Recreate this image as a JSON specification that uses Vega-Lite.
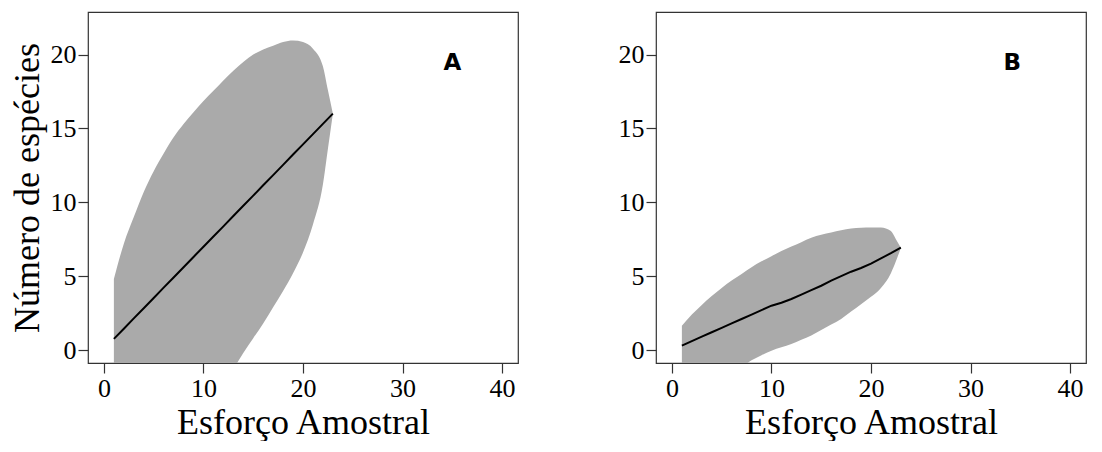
{
  "$schema": "https://vega.github.io/schema/vega-lite/v6.json",
  "background": "white",
  "padding": {"left": 8, "top": 11, "right": 0, "bottom": 0},
  "bounds": "flush",
  "spacing": 138,
  "config": {
    "view": {"stroke": "#333333", "strokeWidth": 1.2},
    "axis": {
      "domain": false, "grid": false,
      "tickColor": "#333333", "tickSize": 10, "tickWidth": 1.2,
      "titleFont": "Liberation Serif", "titleFontSize": 36, "titleFontWeight": "normal", "titleColor": "#000000"
    }
  },
  "datasets": {
    "band": [
      {"panel": "A", "x": 1, "y": 4.8, "ylo": -10.5},
      {"panel": "A", "x": 2, "y": 7.2, "ylo": -9.5},
      {"panel": "A", "x": 3, "y": 9.0, "ylo": -8.6},
      {"panel": "A", "x": 4, "y": 10.7, "ylo": -7.7},
      {"panel": "A", "x": 5, "y": 12.1, "ylo": -6.8},
      {"panel": "A", "x": 6, "y": 13.3, "ylo": -6.0},
      {"panel": "A", "x": 7, "y": 14.4, "ylo": -5.2},
      {"panel": "A", "x": 8, "y": 15.3, "ylo": -4.5},
      {"panel": "A", "x": 9, "y": 16.1, "ylo": -3.8},
      {"panel": "A", "x": 10, "y": 16.85, "ylo": -3.1},
      {"panel": "A", "x": 11, "y": 17.55, "ylo": -2.5},
      {"panel": "A", "x": 12, "y": 18.25, "ylo": -1.9},
      {"panel": "A", "x": 13, "y": 18.9, "ylo": -1.25},
      {"panel": "A", "x": 14, "y": 19.5, "ylo": -0.2},
      {"panel": "A", "x": 15, "y": 20.0, "ylo": 0.8},
      {"panel": "A", "x": 16, "y": 20.35, "ylo": 1.8},
      {"panel": "A", "x": 17, "y": 20.6, "ylo": 2.9},
      {"panel": "A", "x": 18, "y": 20.85, "ylo": 4.0},
      {"panel": "A", "x": 19, "y": 20.95, "ylo": 5.2},
      {"panel": "A", "x": 20, "y": 20.85, "ylo": 6.6},
      {"panel": "A", "x": 21, "y": 20.4, "ylo": 8.5},
      {"panel": "A", "x": 22, "y": 19.2, "ylo": 11.2},
      {"panel": "A", "x": 22.5, "y": 17.6, "ylo": 13.6},
      {"panel": "A", "x": 23, "y": 16.0, "ylo": 16.0},
      {"panel": "B", "x": 1, "y": 1.65, "ylo": -3.2},
      {"panel": "B", "x": 2, "y": 2.4, "ylo": -2.8},
      {"panel": "B", "x": 3, "y": 3.05, "ylo": -2.4},
      {"panel": "B", "x": 4, "y": 3.65, "ylo": -2.0},
      {"panel": "B", "x": 5, "y": 4.2, "ylo": -1.7},
      {"panel": "B", "x": 6, "y": 4.7, "ylo": -1.4},
      {"panel": "B", "x": 7, "y": 5.15, "ylo": -1.15},
      {"panel": "B", "x": 8, "y": 5.6, "ylo": -0.7},
      {"panel": "B", "x": 9, "y": 6.0, "ylo": -0.35},
      {"panel": "B", "x": 10, "y": 6.35, "ylo": -0.05},
      {"panel": "B", "x": 11, "y": 6.7, "ylo": 0.18},
      {"panel": "B", "x": 12, "y": 7.0, "ylo": 0.4},
      {"panel": "B", "x": 13, "y": 7.3, "ylo": 0.7},
      {"panel": "B", "x": 14, "y": 7.6, "ylo": 0.98},
      {"panel": "B", "x": 15, "y": 7.8, "ylo": 1.35},
      {"panel": "B", "x": 16, "y": 7.95, "ylo": 1.72},
      {"panel": "B", "x": 17, "y": 8.1, "ylo": 2.1},
      {"panel": "B", "x": 18, "y": 8.22, "ylo": 2.6},
      {"panel": "B", "x": 19, "y": 8.28, "ylo": 3.1},
      {"panel": "B", "x": 20, "y": 8.3, "ylo": 3.6},
      {"panel": "B", "x": 21, "y": 8.3, "ylo": 4.2},
      {"panel": "B", "x": 22, "y": 8.05, "ylo": 5.2},
      {"panel": "B", "x": 22.5, "y": 7.5, "ylo": 6.0},
      {"panel": "B", "x": 23, "y": 6.93, "ylo": 6.93}
    ],
    "fit": [
      {"panel": "A", "x": 1, "y": 0.75}, {"panel": "A", "x": 2, "y": 1.44}, {"panel": "A", "x": 3, "y": 2.14},
      {"panel": "A", "x": 4, "y": 2.83}, {"panel": "A", "x": 5, "y": 3.52}, {"panel": "A", "x": 6, "y": 4.22},
      {"panel": "A", "x": 7, "y": 4.91}, {"panel": "A", "x": 8, "y": 5.6}, {"panel": "A", "x": 9, "y": 6.3},
      {"panel": "A", "x": 10, "y": 6.99}, {"panel": "A", "x": 11, "y": 7.68}, {"panel": "A", "x": 12, "y": 8.37},
      {"panel": "A", "x": 13, "y": 9.07}, {"panel": "A", "x": 14, "y": 9.76}, {"panel": "A", "x": 15, "y": 10.45},
      {"panel": "A", "x": 16, "y": 11.15}, {"panel": "A", "x": 17, "y": 11.84}, {"panel": "A", "x": 18, "y": 12.53},
      {"panel": "A", "x": 19, "y": 13.23}, {"panel": "A", "x": 20, "y": 13.92}, {"panel": "A", "x": 21, "y": 14.61},
      {"panel": "A", "x": 22, "y": 15.31}, {"panel": "A", "x": 23, "y": 16.0},
      {"panel": "B", "x": 1, "y": 0.3}, {"panel": "B", "x": 2, "y": 0.6}, {"panel": "B", "x": 3, "y": 0.9},
      {"panel": "B", "x": 4, "y": 1.2}, {"panel": "B", "x": 5, "y": 1.5}, {"panel": "B", "x": 6, "y": 1.8},
      {"panel": "B", "x": 7, "y": 2.1}, {"panel": "B", "x": 8, "y": 2.4}, {"panel": "B", "x": 9, "y": 2.7},
      {"panel": "B", "x": 10, "y": 3.0}, {"panel": "B", "x": 11, "y": 3.2}, {"panel": "B", "x": 12, "y": 3.45},
      {"panel": "B", "x": 13, "y": 3.75}, {"panel": "B", "x": 14, "y": 4.05}, {"panel": "B", "x": 15, "y": 4.35},
      {"panel": "B", "x": 16, "y": 4.7}, {"panel": "B", "x": 17, "y": 5.0}, {"panel": "B", "x": 18, "y": 5.3},
      {"panel": "B", "x": 19, "y": 5.55}, {"panel": "B", "x": 20, "y": 5.85}, {"panel": "B", "x": 21, "y": 6.2},
      {"panel": "B", "x": 22, "y": 6.55}, {"panel": "B", "x": 23, "y": 6.93}
    ],
    "panelLabels": [
      {"panel": "A", "x": 35, "y": 19.45, "label": "A"},
      {"panel": "B", "x": 34.2, "y": 19.45, "label": "B"}
    ]
  },
  "hconcat": [
    {
      "width": 430, "height": 351,
      "layer": [
        {
          "data": {"name": "band"},
          "transform": [{"filter": "datum.panel === 'A'"}],
          "mark": {"type": "area", "color": "#AAAAAA", "clip": true, "interpolate": "monotone"},
          "encoding": {
            "x": {"field": "x", "type": "quantitative", "scale": {"domain": [-1.6, 41.6], "nice": false, "zero": false},
                  "axis": {"values": [0, 10, 20, 30, 40], "title": "Esforço Amostral", "labelFont": "Liberation Serif", "labelFontSize": 26, "labelColor": "black"}},
            "y": {"field": "y", "type": "quantitative", "scale": {"domain": [-0.88, 22.88], "nice": false, "zero": false},
                  "axis": {"values": [0, 5, 10, 15, 20], "title": "Número de espécies", "labelFont": "Liberation Serif", "labelFontSize": 26, "labelColor": "black"}},
            "y2": {"field": "ylo"}
          }
        },
        {
          "data": {"name": "fit"},
          "transform": [{"filter": "datum.panel === 'A'"}],
          "mark": {"type": "line", "color": "#000000", "strokeWidth": 2, "clip": true},
          "encoding": {
            "x": {"field": "x", "type": "quantitative"},
            "y": {"field": "y", "type": "quantitative"}
          }
        },
        {
          "data": {"name": "panelLabels"},
          "transform": [{"filter": "datum.panel === 'A'"}],
          "mark": {"type": "text", "font": "DejaVu Sans", "fontWeight": "bold", "fontSize": 23, "align": "center", "baseline": "middle", "color": "#000000"},
          "encoding": {
            "x": {"field": "x", "type": "quantitative"},
            "y": {"field": "y", "type": "quantitative"},
            "text": {"field": "label"}
          }
        }
      ]
    },
    {
      "width": 430, "height": 351,
      "layer": [
        {
          "data": {"name": "band"},
          "transform": [{"filter": "datum.panel === 'B'"}],
          "mark": {"type": "area", "color": "#AAAAAA", "clip": true, "interpolate": "monotone"},
          "encoding": {
            "x": {"field": "x", "type": "quantitative", "scale": {"domain": [-1.6, 41.6], "nice": false, "zero": false},
                  "axis": {"values": [0, 10, 20, 30, 40], "title": "Esforço Amostral", "labelFont": "Liberation Serif", "labelFontSize": 26, "labelColor": "black"}},
            "y": {"field": "y", "type": "quantitative", "scale": {"domain": [-0.88, 22.88], "nice": false, "zero": false},
                  "axis": {"values": [0, 5, 10, 15, 20], "title": null, "labelFont": "Liberation Serif", "labelFontSize": 26, "labelColor": "black"}},
            "y2": {"field": "ylo"}
          }
        },
        {
          "data": {"name": "fit"},
          "transform": [{"filter": "datum.panel === 'B'"}],
          "mark": {"type": "line", "color": "#000000", "strokeWidth": 2, "clip": true},
          "encoding": {
            "x": {"field": "x", "type": "quantitative"},
            "y": {"field": "y", "type": "quantitative"}
          }
        },
        {
          "data": {"name": "panelLabels"},
          "transform": [{"filter": "datum.panel === 'B'"}],
          "mark": {"type": "text", "font": "DejaVu Sans", "fontWeight": "bold", "fontSize": 23, "align": "center", "baseline": "middle", "color": "#000000"},
          "encoding": {
            "x": {"field": "x", "type": "quantitative"},
            "y": {"field": "y", "type": "quantitative"},
            "text": {"field": "label"}
          }
        }
      ]
    }
  ]
}
